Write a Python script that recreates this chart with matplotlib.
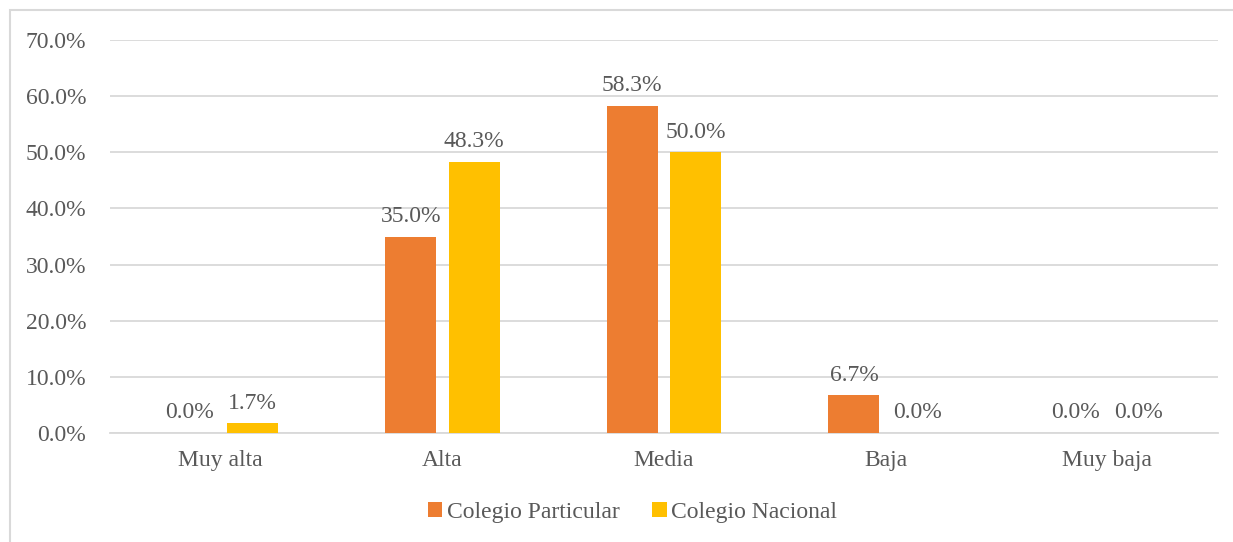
import numpy as np
import matplotlib
matplotlib.use("Agg")
import matplotlib.pyplot as plt
from matplotlib.patches import Rectangle

# datos del grafico
categorias = ["Muy alta", "Alta", "Media", "Baja", "Muy baja"]
particular = [0.0, 35.0, 58.3, 6.7, 0.0]
nacional = [1.7, 48.3, 50.0, 0.0, 0.0]
series = ["Colegio Particular", "Colegio Nacional"]
ticks_y = [0, 10, 20, 30, 40, 50, 60, 70]

color_part = "#ED7D31"
color_nac = "#FFC000"
gris_texto = "#595959"
gris_linea = "#D9D9D9"
tam = 17

plt.rcParams["font.family"] = ["Liberation Serif", "DejaVu Serif"]

fig = plt.figure(figsize=(12.33, 5.42), dpi=100)
ax = fig.add_axes([0.0892, 0.2011, 0.8986, 0.7251])

# marco del area del grafico
fig.patches.append(Rectangle((0.0081, -0.05), 1.1, 1.0315, transform=fig.transFigure,
                             fill=False, edgecolor=gris_linea, linewidth=1.5))

x = np.arange(len(categorias))
ancho = 0.23
desp = 0.143

b1 = ax.bar(x - desp, particular, ancho, color=color_part, label=series[0], zorder=3)
b2 = ax.bar(x + desp, nacional, ancho, color=color_nac, label=series[1], zorder=3)

for barras, vals in ((b1, particular), (b2, nacional)):
    for barra, v in zip(barras, vals):
        ax.annotate(f"{v:.1f}%", (barra.get_x() + barra.get_width() / 2, v),
                    xytext=(0, 7), textcoords="offset points",
                    ha="center", va="bottom", fontsize=tam, color=gris_texto)

ax.set_xlim(-0.5, len(categorias) - 0.5)
ax.set_ylim(0, 70)
ax.set_yticks(ticks_y)
ax.set_yticklabels([f"{t:.1f}%" for t in ticks_y], fontsize=tam, color=gris_texto)
ax.set_xticks(x)
ax.set_xticklabels(categorias, fontsize=tam, color=gris_texto)
ax.tick_params(axis="both", length=0)
ax.tick_params(axis="y", pad=17)
ax.tick_params(axis="x", pad=12)

ax.grid(axis="y", color=gris_linea, linewidth=1.3, zorder=0)
for lado in ["top", "right", "left"]:
    ax.spines[lado].set_visible(False)
ax.spines["bottom"].set_color(gris_linea)
ax.spines["bottom"].set_linewidth(1.3)

fig.legend(loc="center", bbox_to_anchor=(0.513, 0.055), ncol=2, frameon=False,
           fontsize=tam, labelcolor=gris_texto, handlelength=0.6, handleheight=0.6,
           handletextpad=0.2, columnspacing=1.4)

fig.savefig("out.png", dpi=100)
